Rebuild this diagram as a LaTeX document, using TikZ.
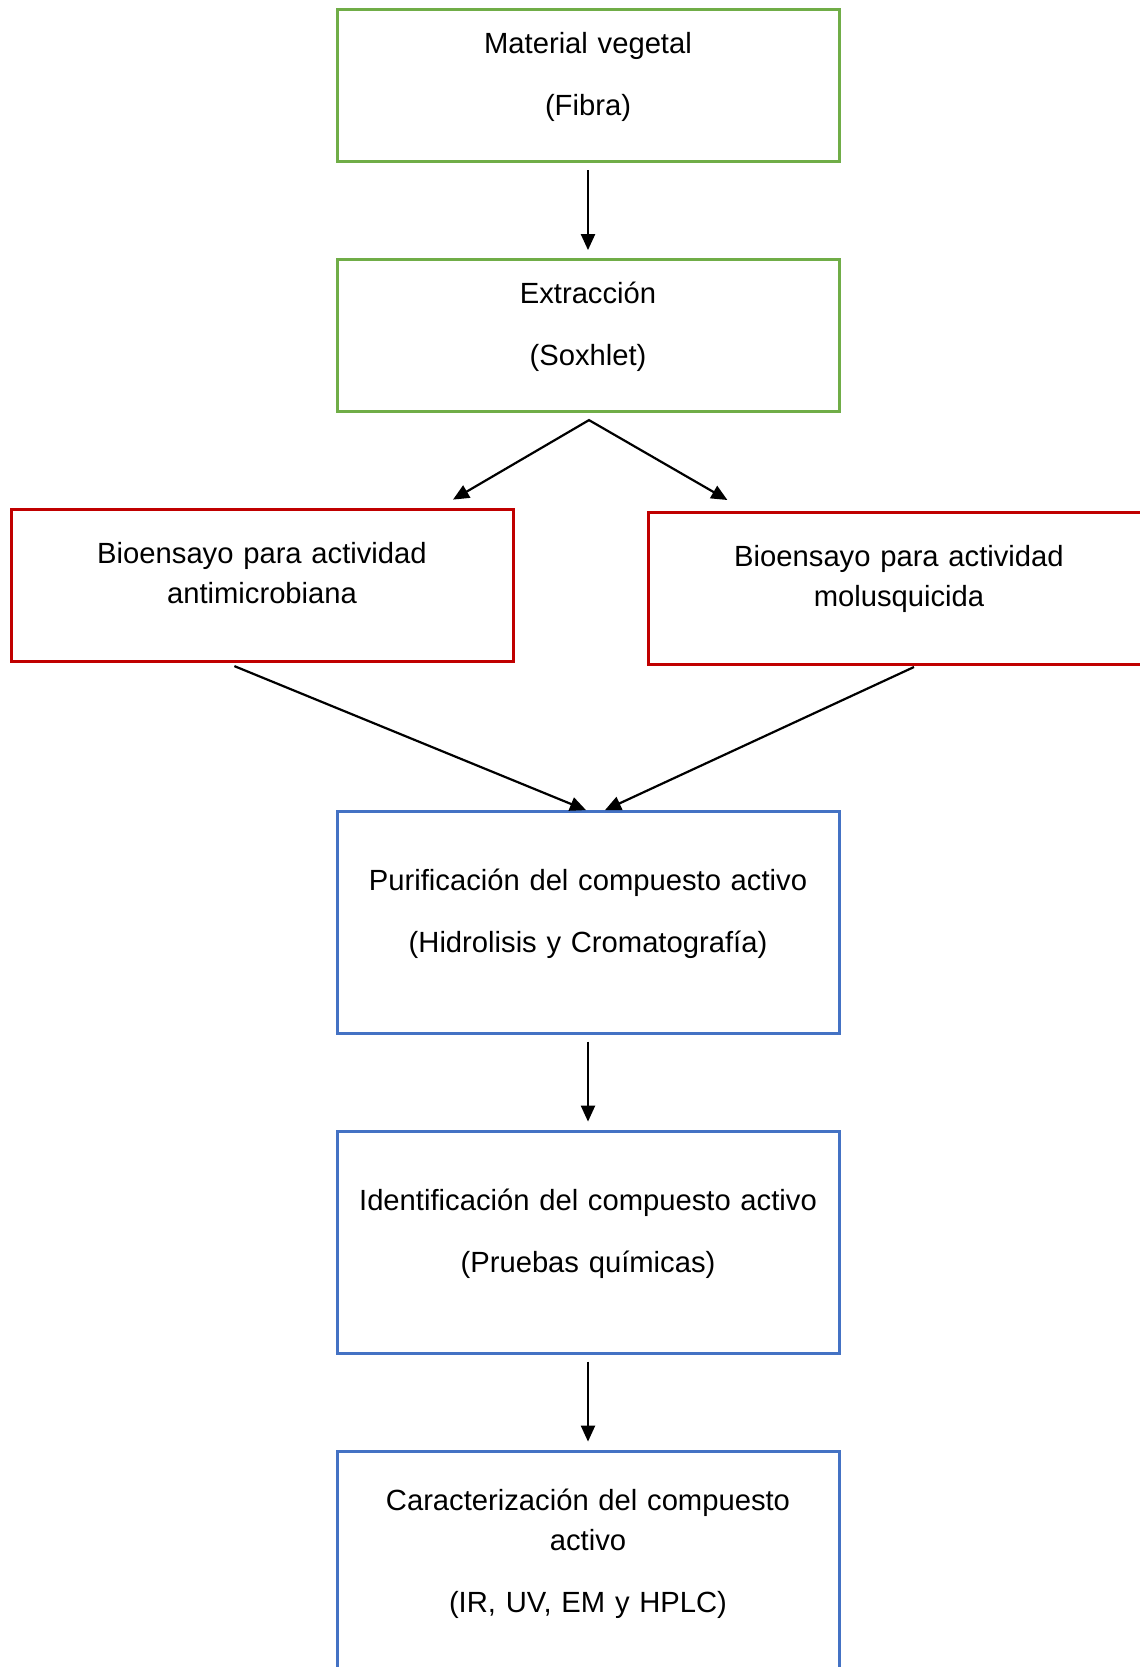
\documentclass[tikz,border=0pt]{standalone}
\usepackage{fontspec}
\setmainfont{Liberation Sans}
\usepackage{xcolor}
\usetikzlibrary{arrows.meta,positioning,calc}
\definecolor{verdeCaja}{HTML}{70AD47}
\definecolor{rojoCaja}{HTML}{C00000}
\definecolor{azulCaja}{HTML}{4472C4}
\tikzset{
    caja/.style={
        rectangle,
        draw,
        line width=1.5pt,
        inner sep=0pt,
        outer sep=0pt,
        align=center,
        text width=251pt
    },
    etapaVerde/.style={caja, draw=verdeCaja, text height=21.75pt, text depth=54.25pt},
    bioensayo/.style={caja, draw=rojoCaja, text height=27pt, text depth=49pt},
    etapaAzul/.style={caja, draw=azulCaja, text height=39.5pt, text depth=71.5pt},
    flecha/.style={-{Triangle[length=8pt,width=7pt]}, line width=1.1pt},
    dobleFlecha/.style={{Triangle[length=8pt,width=7pt]}-{Triangle[length=8pt,width=7pt]}, line width=1.1pt}
}

\begin{document}
\begin{tikzpicture}[node distance=49pt, font=\fontsize{14.6pt}{20pt}\selectfont]
        \useasboundingbox (0,0) rectangle (570pt,-833.5pt);
        \node[etapaVerde, anchor=north] (material) at (294pt,-4.8pt)
            {Material vegetal\\[11pt](Fibra)};
        \node[etapaVerde, below=of material] (extraccion)
            {Extracción\\[11pt](Soxhlet)};
        \node[bioensayo, below=of extraccion, xshift=-163pt] (antimicrobiana)
            {Bioensayo para actividad\\antimicrobiana};
        \node[bioensayo, below=50.5pt of extraccion, xshift=155.5pt] (molusquicida)
            {Bioensayo para actividad\\molusquicida};
        \node[etapaAzul, below=75pt of antimicrobiana, xshift=163pt] (purificacion)
            {Purificación del compuesto activo\\[11pt](Hidrolisis y Cromatografía)};
        \node[etapaAzul, below=of purificacion] (identificacion)
            {Identificación del compuesto activo\\[11pt](Pruebas químicas)};
        \node[etapaAzul, below=of identificacion, text height=29.5pt, text depth=81.5pt] (caracterizacion)
            {Caracterización del compuesto\\activo\\[11pt](IR, UV, EM y HPLC)};

        \draw[flecha, shorten <=4.25pt, shorten >=4.75pt] (material) -- (extraccion);
        \draw[dobleFlecha] ($(antimicrobiana.north west)+(221pt,5pt)$)
            -- ($(extraccion.south)+(0.5pt,-4.25pt)$)
            -- ($(molusquicida.north west)+(39.7pt,6.3pt)$);
        \draw[flecha] ($(antimicrobiana.south west)+(111.7pt,-2.25pt)$) -- ($(purificacion.north)+(-1pt,0.75pt)$);
        \draw[flecha] ($(molusquicida.south west)+(133pt,-1.2pt)$) -- ($(purificacion.north)+(8.5pt,0.75pt)$);
        \draw[flecha, shorten <=4pt, shorten >=5pt] (purificacion) -- (identificacion);
        \draw[flecha, shorten <=4pt, shorten >=5pt] (identificacion) -- (caracterizacion);
    \end{tikzpicture}
\end{document}
